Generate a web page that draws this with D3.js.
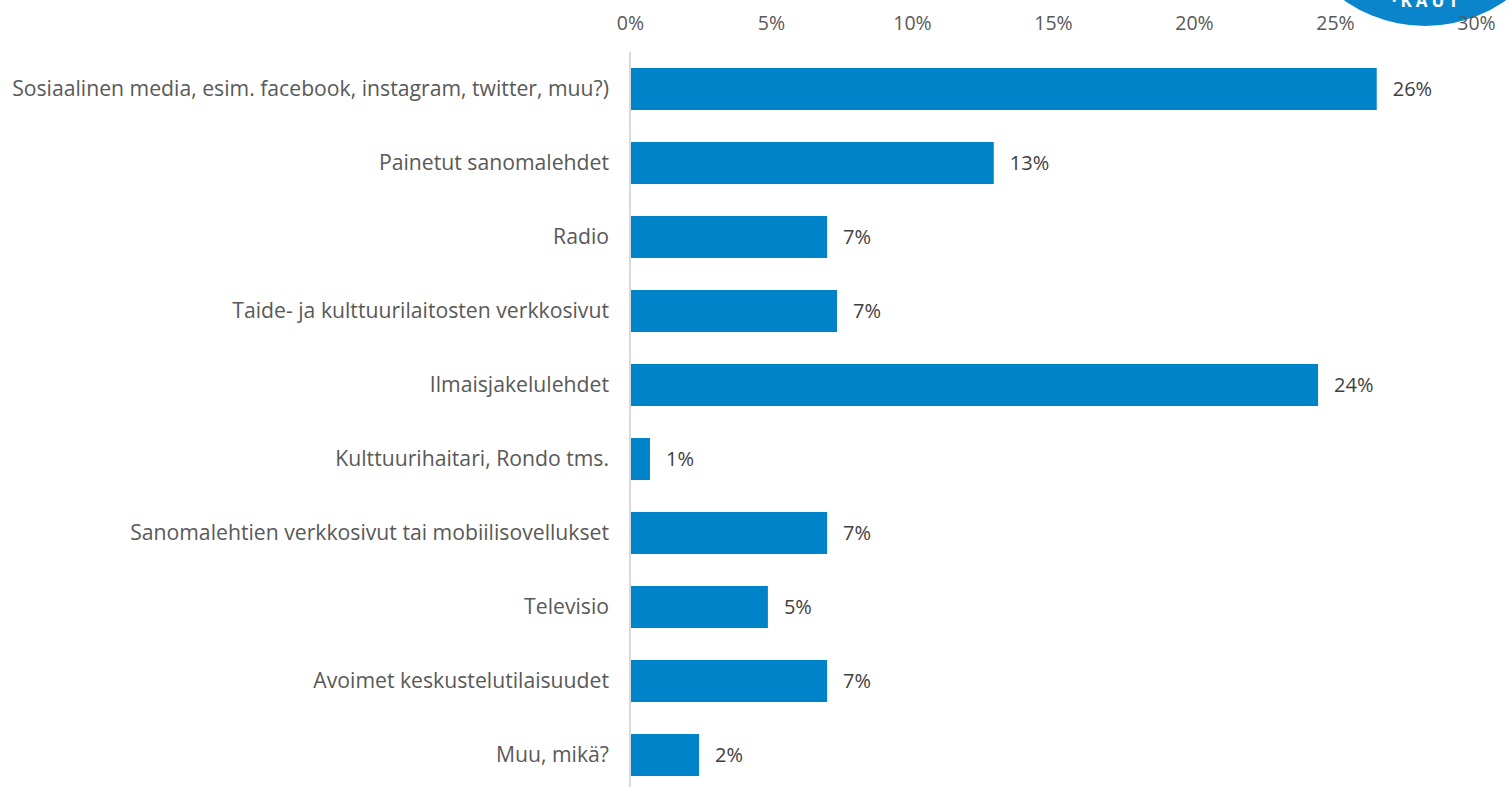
<!DOCTYPE html>
<html>
<head>
<meta charset="utf-8">
<script src="https://cdn.jsdelivr.net/npm/d3@7"></script>
<style>
  html, body { margin: 0; padding: 0; background: #fff; }
  svg { display: block; }
  text { font-family: "Open Sans", Lato, sans-serif; }
</style>
</head>
<body>
<svg id="chart" width="1509" height="787"></svg>
<script>
// Survey answers: where information about cultural events is found (share of respondents)
const categories = [
  "Sosiaalinen media, esim. facebook, instagram, twitter, muu?)",
  "Painetut sanomalehdet",
  "Radio",
  "Taide- ja kulttuurilaitosten verkkosivut",
  "Ilmaisjakelulehdet",
  "Kulttuurihaitari, Rondo tms.",
  "Sanomalehtien verkkosivut tai mobiilisovellukset",
  "Televisio",
  "Avoimet keskustelutilaisuudet",
  "Muu, mikä?"
];
const shares = [0.2648, 0.129, 0.0699, 0.0734, 0.244, 0.0071, 0.0699, 0.0489, 0.0699, 0.0245];
const tickValues = [0, 0.05, 0.10, 0.15, 0.20, 0.25, 0.30];

const W = 1509, H = 787;
const svg = d3.select("#chart");

const x = d3.scaleLinear().domain([0, 0.30]).range([630, 1476]);
const y = d3.scaleBand()
  .domain(categories)
  .range([52, 792])
  .paddingInner(0.432)
  .paddingOuter(0.216);

const pct = d3.format(".0%");

// Logo badge peeking in at the top-right corner
svg.append("circle")
  .attr("cx", 1425).attr("cy", -114).attr("r", 140)
  .attr("fill", "#0a85cc");
svg.append("text")
  .attr("x", 1427).attr("y", 7)
  .attr("text-anchor", "middle")
  .attr("fill", "#fff")
  .attr("font-weight", 700)
  .attr("font-size", 17)
  .attr("letter-spacing", 4)
  .text("·KAUT");

// Vertical baseline at 0%
svg.append("line")
  .attr("x1", x(0)).attr("x2", x(0))
  .attr("y1", 52).attr("y2", H)
  .attr("stroke", "#d9d9d9")
  .attr("stroke-width", 2);

// Top value axis (labels only)
const axis = d3.axisTop(x).tickValues(tickValues).tickFormat(pct).tickSize(0).tickPadding(0);
const gAxis = svg.append("g").attr("transform", "translate(0,30)").call(axis);
gAxis.select(".domain").remove();
gAxis.selectAll("text")
  .attr("font-family", "'Open Sans', Lato, sans-serif")
  .attr("font-size", 19.5)
  .attr("fill", "#595959");

// Bars
svg.append("g").selectAll("rect")
  .data(categories)
  .join("rect")
  .attr("x", x(0) + 1)
  .attr("y", d => y(d))
  .attr("width", (d, i) => x(shares[i]) - x(0) - 1)
  .attr("height", y.bandwidth())
  .attr("fill", "#0083c9");

// Category labels
svg.append("g").selectAll("text")
  .data(categories)
  .join("text")
  .attr("x", 609)
  .attr("y", d => y(d) + y.bandwidth() / 2)
  .attr("dy", "0.35em")
  .attr("text-anchor", "end")
  .attr("font-size", 21.2)
  .attr("fill", "#595959")
  .text(d => d);

// Value labels
svg.append("g").selectAll("text")
  .data(categories)
  .join("text")
  .attr("x", (d, i) => x(shares[i]) + 16)
  .attr("y", d => y(d) + y.bandwidth() / 2)
  .attr("dy", "0.35em")
  .attr("font-size", 20)
  .attr("fill", "#404040")
  .text((d, i) => pct(shares[i]));
</script>
</body>
</html>
